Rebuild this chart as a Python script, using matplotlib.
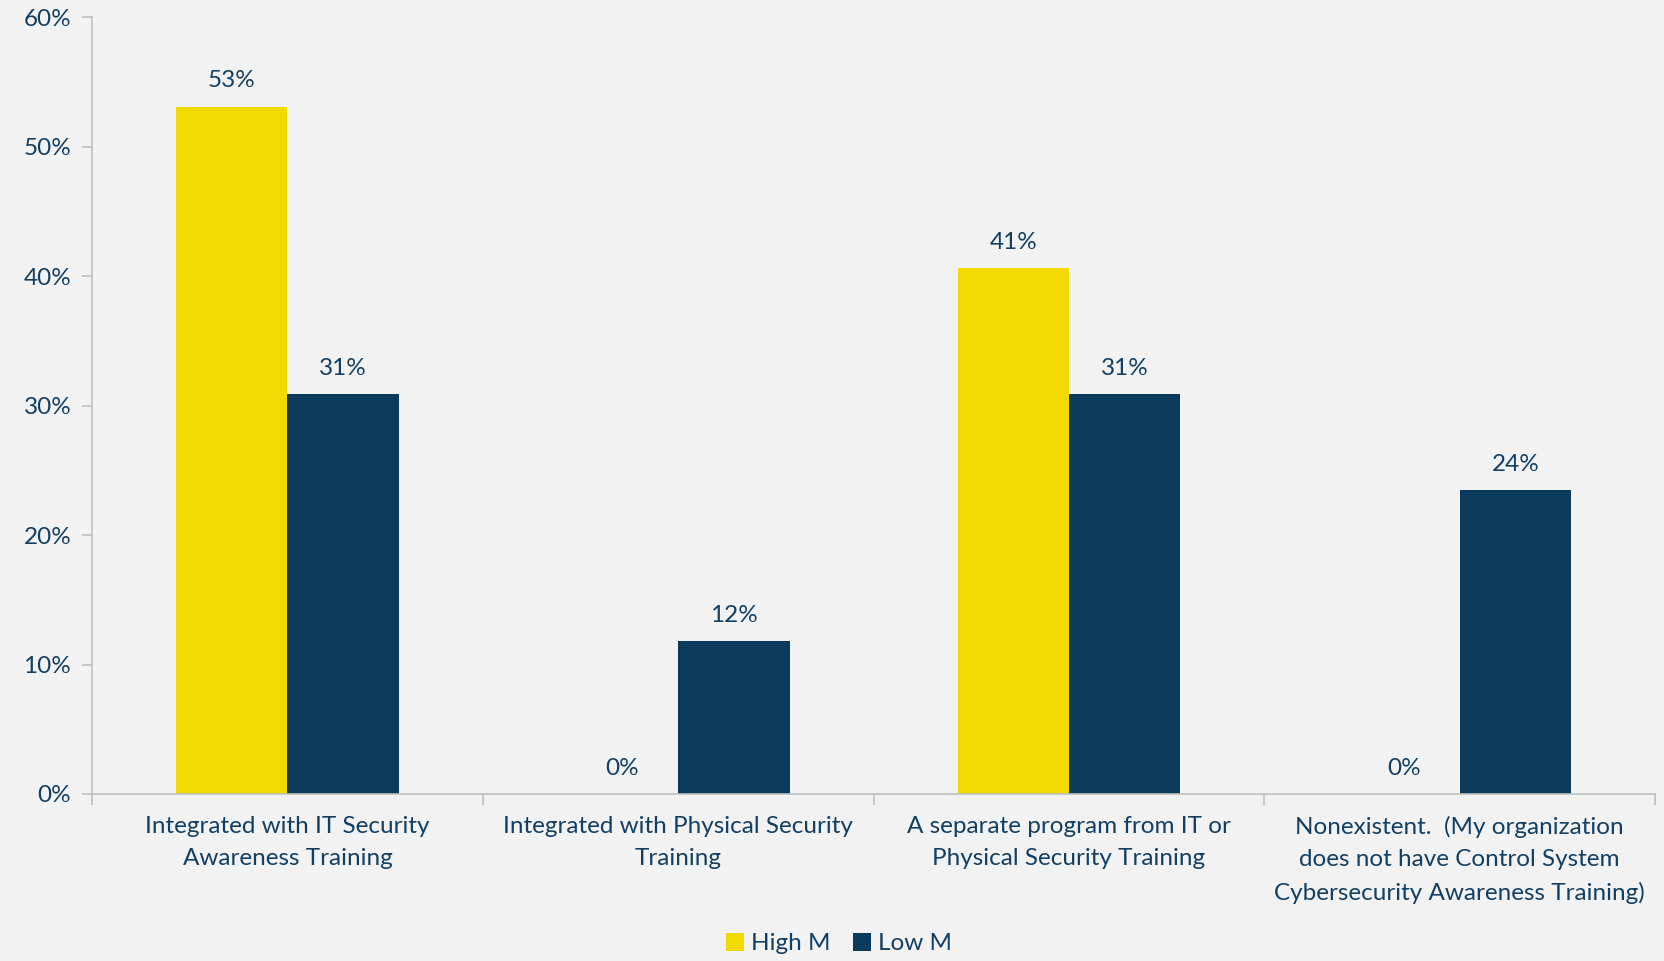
import matplotlib.pyplot as plt
import numpy as np

categories = [
    "Integrated with IT Security\nAwareness Training",
    "Integrated with Physical Security\nTraining",
    "A separate program from IT or\nPhysical Security Training",
    "Nonexistent.  (My organization\ndoes not have Control System\nCybersecurity Awareness Training)",
]
high_m = [53.1, 0.0, 40.6, 0.0]
low_m = [30.9, 11.8, 30.9, 23.5]
series_names = ["High M", "Low M"]

yellow = "#F2DA00"
navy = "#0A3A5C"
text_c = "#123F63"
bg = "#F2F2F2"
grid_c = "#BFBFBF"
fs = 17.5

plt.rcParams['font.family'] = ['Lato', 'DejaVu Sans']

fig = plt.figure(figsize=(16.65, 9.61), dpi=100, facecolor=bg)
ax = fig.add_axes([0.0553, 0.1738, 0.9387, 0.8082])
ax.set_facecolor(bg)

x = np.arange(len(categories))
w = 0.285
b1 = ax.bar(x - w / 2, high_m, w, color=yellow, label=series_names[0])
b2 = ax.bar(x + w / 2, low_m, w, color=navy, label=series_names[1])

for bars in (b1, b2):
    for r in bars:
        h = r.get_height()
        ax.annotate(f"{h:.0f}%", (r.get_x() + r.get_width() / 2, h),
                    xytext=(0, 11), textcoords="offset points",
                    ha="center", va="bottom", fontsize=fs, color=text_c)

ax.set_xlim(-0.5, len(categories) - 0.5)
ax.set_ylim(0, 60)
ax.set_yticks(np.arange(0, 61, 10))
ax.set_yticklabels([f"{v}%" for v in range(0, 61, 10)])
ax.set_xticks(x)
ax.set_xticklabels(categories, linespacing=1.65)
ax.set_xticks(np.arange(-0.5, len(categories), 1.0), minor=True)
ax.tick_params(axis="x", which="major", length=0, pad=16, labelsize=fs, labelcolor=text_c)
ax.tick_params(axis="x", which="minor", length=8, color=grid_c, width=1.2)
ax.tick_params(axis="y", length=7, color=grid_c, width=1.2, labelsize=fs, labelcolor=text_c, pad=8)

for s in ("top", "right"):
    ax.spines[s].set_visible(False)
for s in ("left", "bottom"):
    ax.spines[s].set_color(grid_c)
    ax.spines[s].set_linewidth(1.2)

fig.legend(handles=[b1, b2], loc="center", bbox_to_anchor=(0.504, 0.018), ncol=2,
           frameon=False, fontsize=fs, labelcolor=text_c, handlelength=0.75,
           handleheight=0.75, handletextpad=0.3, columnspacing=0.9)

fig.savefig("out.png", dpi=100, facecolor=bg)
